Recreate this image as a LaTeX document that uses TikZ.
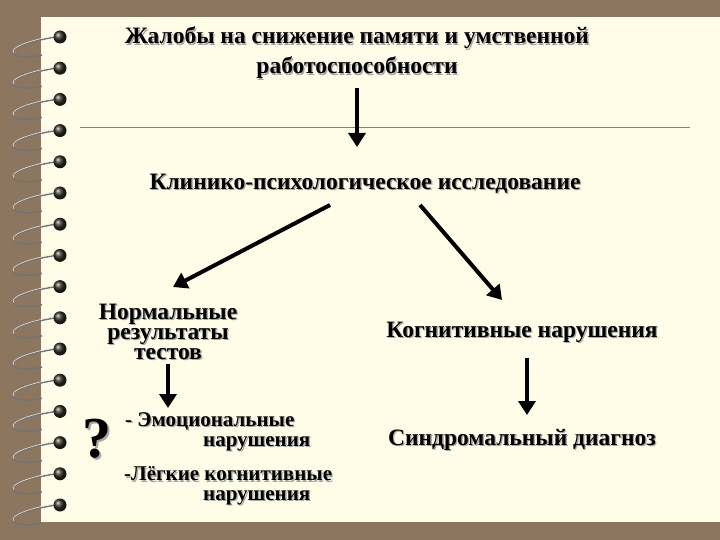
\documentclass[tikz,border=0pt]{standalone}
\usepackage{fontspec}
\setmainfont{Liberation Serif}
\usetikzlibrary{arrows.meta}
\definecolor{bgbrown}{RGB}{140,118,96}
\definecolor{paper}{RGB}{255,253,232}
\definecolor{ringdark}{RGB}{45,45,35}
\tikzset{
  txt/.style={font=\bfseries\fontsize{23.5}{22}\selectfont, align=center, inner sep=0pt},
  small/.style={font=\bfseries\fontsize{21}{20}\selectfont, align=left, inner sep=0pt, anchor=west},
  shad/.style={text=black!35, xshift=1.3pt, yshift=-1.3pt},
  arr/.style={line width=4pt, -{Triangle[length=14pt,width=17pt]}},
}
\newcommand\Sh[4][txt]{%
  \node[#1,shad] at (#3) {#4};
  \node[#1] (#2) at (#3) {#4};}
\begin{document}
\begin{tikzpicture}[x=1pt,y=-1pt]
\useasboundingbox (0,0) rectangle (720,540);
\fill[bgbrown] (0,0) rectangle (720,540);
\fill[paper] (41,17) rectangle (720,522);
\foreach \i in {0,...,15}{
  \pgfmathsetmacro\yy{37+31.2*\i}
  \draw[black!55, line width=1.4pt] (56,\yy) .. controls (30,\yy+4) and (5,\yy+12) .. (15,\yy+18) .. controls (22,\yy+21) and (35,\yy+20) .. (42,\yy+18);
  \draw[white!80!gray, line width=0.6pt] (54,\yy-1) .. controls (30,\yy+3) and (8,\yy+11) .. (14,\yy+16);
  \shade[ball color=ringdark] (60,\yy) circle (6.5);
}
\draw[black!50, line width=0.8pt] (80,127) -- (690,127);
\Sh{t1}{357,38}{Жалобы на снижение памяти и умственной}
\Sh{t2}{357,68}{работоспособности}
\Sh{k}{365,184}{Клинико-психологическое исследование}
\Sh{n}{168,332}{Нормальные\\[-2pt]результаты\\[-2pt]тестов}
\Sh{kog}{522,332}{Когнитивные нарушения}
\Sh{s}{522,440}{Синдромальный диагноз}
\Sh[small]{e1}{125,421}{- Эмоциональные}
\Sh[small]{e2}{203,444}{нарушения}
\Sh[small]{l1}{124,474}{-Лёгкие когнитивные}
\Sh[small]{l2}{203,498}{нарушения}
\node[font=\bfseries\fontsize{58}{58}\selectfont, text=black!35, inner sep=0pt] at (99,441) {?};
\node[font=\bfseries\fontsize{58}{58}\selectfont, inner sep=0pt] (q) at (97,439) {?};
\coordinate (a0) at (357,88); \coordinate (a1) at (357,147);
\draw[arr] (a0) -- (a1);
\coordinate (b0) at (330,205); \coordinate (b1) at (173,287);
\draw[arr] (b0) -- (b1);
\coordinate (c0) at (420,205); \coordinate (c1) at (502,300);
\draw[arr] (c0) -- (c1);
\coordinate (d0) at (168,364); \coordinate (d1) at (168,408);
\draw[arr] (d0) -- (d1);
\coordinate (f0) at (527,358); \coordinate (f1) at (527,415);
\draw[arr] (f0) -- (f1);
\end{tikzpicture}
\end{document}
